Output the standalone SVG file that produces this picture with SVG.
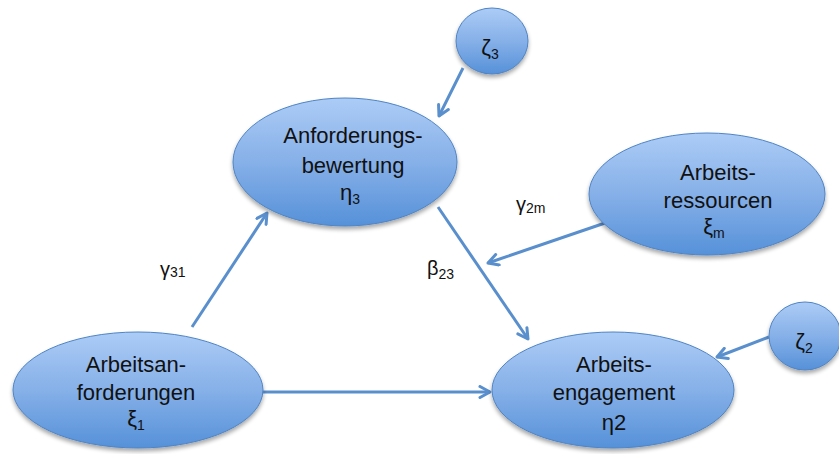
<svg xmlns="http://www.w3.org/2000/svg" width="839" height="454" viewBox="0 0 839 454">
<defs>
<linearGradient id="g" x1="0" y1="0" x2="0" y2="1">
<stop offset="0" stop-color="#acccf6"/>
<stop offset="0.5" stop-color="#86b0e8"/>
<stop offset="1" stop-color="#5691d9"/>
</linearGradient>
<filter id="sh" x="-10%" y="-10%" width="120%" height="130%">
<feGaussianBlur in="SourceAlpha" stdDeviation="2"/>
<feOffset dx="0" dy="3" result="b"/>
<feComponentTransfer><feFuncA type="linear" slope="0.35"/></feComponentTransfer>
<feMerge><feMergeNode/><feMergeNode in="SourceGraphic"/></feMerge>
</filter>
<marker id="ah" viewBox="0 0 14 14" refX="12" refY="7" markerWidth="14" markerHeight="14" markerUnits="userSpaceOnUse" orient="auto">
<polyline points="2,1.5 12,7 2,12.5" fill="none" stroke="#5a8fcd" stroke-width="3" stroke-linecap="round" stroke-linejoin="round"/>
</marker>
</defs>
<style>
.n{fill:url(#g);stroke:#4f84c4;stroke-width:1;filter:url(#sh)}
.t{font-family:"Liberation Sans","DejaVu Sans",sans-serif;font-size:22px;fill:#111;text-anchor:middle}
.l{font-family:"Liberation Sans","DejaVu Sans",sans-serif;font-size:20px;fill:#111}
.s{font-size:14px}
.c{stroke:#5a8fcd;stroke-width:3;fill:none;marker-end:url(#ah)}
</style>
<g id="connectors">
<line class="c" x1="463" y1="68" x2="439" y2="116"/>
<line class="c" x1="192" y1="327" x2="267" y2="213"/>
<line class="c" x1="258" y1="392" x2="490" y2="392"/>
<line class="c" x1="438" y1="207" x2="528" y2="339"/>
<line class="c" x1="605" y1="223" x2="488" y2="263"/>
<line class="c" x1="769" y1="337" x2="717" y2="357"/>
</g>
<g id="zeta3">
<ellipse class="n" cx="492" cy="41" rx="36" ry="33"/>
<text class="t" x="490" y="55">ζ<tspan class="s" dy="4">3</tspan></text>
</g>
<g id="eta3">
<ellipse class="n" cx="345" cy="162" rx="112" ry="64"/>
<text class="t" x="353" y="143">Anforderungs-</text>
<text class="t" x="353" y="173">bewertung</text>
<text class="t" x="350" y="200">η<tspan class="s" dy="4">3</tspan></text>
</g>
<g id="xim">
<ellipse class="n" cx="707" cy="194" rx="118" ry="61"/>
<text class="t" x="718" y="180">Arbeits-</text>
<text class="t" x="718" y="208">ressourcen</text>
<text class="t" x="714" y="234">ξ<tspan class="s" dy="4">m</tspan></text>
</g>
<g id="xi1">
<ellipse class="n" cx="138" cy="390" rx="125" ry="58"/>
<text class="t" x="136" y="372">Arbeitsan-</text>
<text class="t" x="136" y="400">forderungen</text>
<text class="t" x="136" y="426">ξ<tspan class="s" dy="4">1</tspan></text>
</g>
<g id="eta2">
<ellipse class="n" cx="613" cy="390" rx="121" ry="58"/>
<text class="t" x="614" y="372">Arbeits-</text>
<text class="t" x="614" y="400">engagement</text>
<text class="t" x="614" y="430">η2</text>
</g>
<g id="zeta2">
<ellipse class="n" cx="805" cy="336" rx="36" ry="34"/>
<text class="t" x="804" y="349">ζ<tspan class="s" dy="4">2</tspan></text>
</g>
<g id="labels">
<text class="l" x="160" y="276">γ<tspan class="s" dy="1">31</tspan></text>
<text class="l" x="427" y="275">β<tspan class="s" dy="4">23</tspan></text>
<text class="l" x="516" y="211">γ<tspan class="s" dy="2">2m</tspan></text>
</g>
</svg>
